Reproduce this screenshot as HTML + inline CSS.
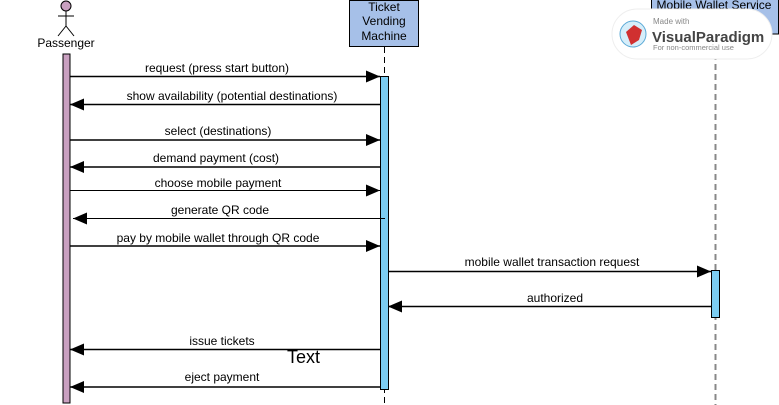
<!DOCTYPE html>
<html><head><meta charset="utf-8"><style>
html,body{margin:0;padding:0;background:#fff;width:779px;height:405px;overflow:hidden}
text{font-family:"Liberation Sans",sans-serif;font-size:12px;fill:#000}
</style></head><body>
<svg width="779" height="405" viewBox="0 0 779 405" xmlns="http://www.w3.org/2000/svg">
<defs>
<marker id="a" markerWidth="14" markerHeight="12" refX="14" refY="6" orient="auto" markerUnits="userSpaceOnUse"><path d="M0,0 L14,6 L0,12 z" fill="#000"/></marker>
</defs>
<circle cx="66" cy="6" r="5" fill="#c9a0c0" stroke="#000"/>
<line x1="66" y1="11" x2="66" y2="26" stroke="#000"/>
<line x1="58" y1="16" x2="74" y2="16" stroke="#000"/>
<line x1="66" y1="26" x2="58" y2="36" stroke="#000"/>
<line x1="66" y1="26" x2="74" y2="36" stroke="#000"/>
<text x="66" y="47" text-anchor="middle">Passenger</text>
<rect x="63" y="54" width="7" height="349" fill="#c9a0c0" stroke="#000" stroke-width="1"/>
<rect x="349.5" y="0.5" width="69" height="46" fill="#a6c0e8" stroke="#000"/>
<text x="384" y="11" text-anchor="middle">Ticket</text>
<text x="384" y="25" text-anchor="middle">Vending</text>
<text x="384" y="40" text-anchor="middle">Machine</text>
<line x1="384.5" y1="47" x2="384.5" y2="405" stroke="#000" stroke-dasharray="6,4"/>
<rect x="380.5" y="76.5" width="8" height="313" fill="#7ccdf2" stroke="#000"/>
<rect x="651.5" y="-2" width="127" height="36" fill="#a6c0e8" stroke="#000"/>
<text x="714" y="9" text-anchor="middle">Mobile Wallet Service</text>
<line x1="715.5" y1="34" x2="715.5" y2="405" stroke="#888" stroke-width="2" stroke-dasharray="6,4"/>
<rect x="711.5" y="270.5" width="8" height="47" fill="#7ccdf2" stroke="#000"/>
<rect x="612" y="9" width="160" height="50" rx="25" fill="#fff" stroke="#eee"/>
<circle cx="633" cy="34" r="13" fill="#d6eefa" stroke="#5aa9d6"/>
<path d="M626,32 l8,-7 8,5 -3,10 -8,5z" fill="#d03030"/>
<text x="653" y="24" style="font-size:8px;fill:#888">Made with</text>
<text x="652" y="42" style="font-size:15px;font-weight:bold;fill:#444">VisualParadigm</text>
<text x="653" y="50" style="font-size:7.5px;fill:#888">For non-commercial use</text>
<g stroke="#000" stroke-width="1.5" fill="none">
<line x1="70" y1="76.5" x2="380" y2="76.5" marker-end="url(#a)"/>
<line x1="380" y1="104.5" x2="70" y2="104.5" marker-end="url(#a)"/>
<line x1="70" y1="140" x2="380" y2="140" marker-end="url(#a)"/>
<line x1="380" y1="167" x2="70" y2="167" marker-end="url(#a)"/>
<line x1="70" y1="190.5" x2="380" y2="190.5" stroke-width="1" marker-end="url(#a)"/>
<line x1="385" y1="218.5" x2="73" y2="218.5" stroke-width="1" marker-end="url(#a)"/>
<line x1="70" y1="246" x2="380" y2="246" marker-end="url(#a)"/>
<line x1="388" y1="271.5" x2="711" y2="271.5" marker-end="url(#a)"/>
<line x1="711" y1="306.5" x2="388" y2="306.5" marker-end="url(#a)"/>
<line x1="380" y1="349.5" x2="70" y2="349.5" marker-end="url(#a)"/>
<line x1="380" y1="387" x2="70" y2="387" marker-end="url(#a)"/>
</g>
<g text-anchor="middle">
<text x="217" y="72">request (press start button)</text>
<text x="232" y="100">show availability (potential destinations)</text>
<text x="218" y="135">select (destinations)</text>
<text x="216" y="162">demand payment (cost)</text>
<text x="218" y="187">choose mobile payment</text>
<text x="220" y="214">generate QR code</text>
<text x="218" y="242">pay by mobile wallet through QR code</text>
<text x="552" y="266">mobile wallet transaction request</text>
<text x="555" y="302">authorized</text>
<text x="222" y="345">issue tickets</text>
<text x="222" y="381">eject payment</text>
</g>
<text x="287" y="363" style="font-size:18px">Text</text>
</svg>
</body></html>
